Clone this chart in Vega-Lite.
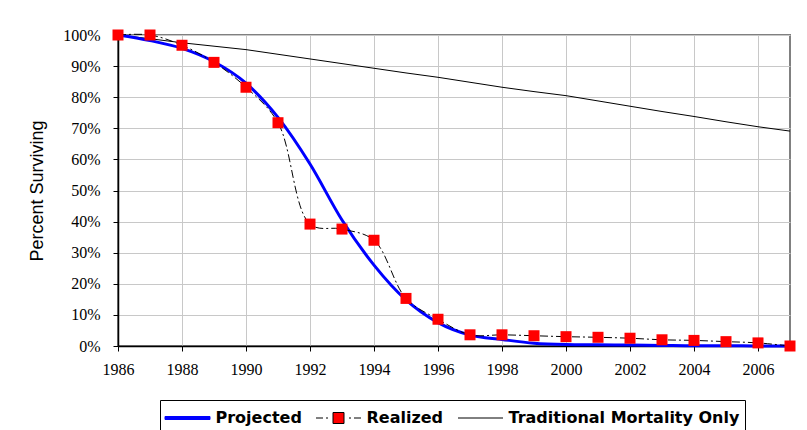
{
  "$schema": "https://vega.github.io/schema/vega-lite/v6.json",
  "width": 672,
  "height": 311,
  "autosize": {"type": "none"},
  "padding": {"left": 118, "top": 35, "right": 17, "bottom": 84},
  "background": "white",
  "config": {
    "view": {"stroke": "#808080", "strokeWidth": 2},
    "axis": {
      "labelFont": "Liberation Serif",
      "labelFontSize": 16,
      "labelColor": "black",
      "labelFlush": false,
      "labelOverlap": false,
      "tickColor": "black",
      "tickSize": 5,
      "tickWidth": 1,
      "domainColor": "black",
      "domainWidth": 1.5,
      "gridColor": "#c8c8c8",
      "gridWidth": 1
    }
  },
  "data": {
    "values": [
      {"year": 1986, "series": "Projected", "value": 1.0},
      {"year": 1987, "series": "Projected", "value": 0.982},
      {"year": 1988, "series": "Projected", "value": 0.957},
      {"year": 1989, "series": "Projected", "value": 0.914},
      {"year": 1990, "series": "Projected", "value": 0.845},
      {"year": 1991, "series": "Projected", "value": 0.735},
      {"year": 1992, "series": "Projected", "value": 0.585},
      {"year": 1993, "series": "Projected", "value": 0.405},
      {"year": 1994, "series": "Projected", "value": 0.26},
      {"year": 1995, "series": "Projected", "value": 0.148},
      {"year": 1996, "series": "Projected", "value": 0.075},
      {"year": 1997, "series": "Projected", "value": 0.035},
      {"year": 1998, "series": "Projected", "value": 0.021},
      {"year": 1999, "series": "Projected", "value": 0.009},
      {"year": 2000, "series": "Projected", "value": 0.005},
      {"year": 2001, "series": "Projected", "value": 0.004},
      {"year": 2002, "series": "Projected", "value": 0.003},
      {"year": 2003, "series": "Projected", "value": 0.002},
      {"year": 2004, "series": "Projected", "value": 0.001},
      {"year": 2005, "series": "Projected", "value": 0.001},
      {"year": 2006, "series": "Projected", "value": 0.0},
      {"year": 2007, "series": "Projected", "value": 0.0},
      {"year": 1986, "series": "Realized", "value": 1.0},
      {"year": 1987, "series": "Realized", "value": 1.0},
      {"year": 1988, "series": "Realized", "value": 0.967},
      {"year": 1989, "series": "Realized", "value": 0.912},
      {"year": 1990, "series": "Realized", "value": 0.832},
      {"year": 1991, "series": "Realized", "value": 0.718},
      {"year": 1992, "series": "Realized", "value": 0.392},
      {"year": 1993, "series": "Realized", "value": 0.376},
      {"year": 1994, "series": "Realized", "value": 0.34},
      {"year": 1995, "series": "Realized", "value": 0.153},
      {"year": 1996, "series": "Realized", "value": 0.086},
      {"year": 1997, "series": "Realized", "value": 0.036},
      {"year": 1998, "series": "Realized", "value": 0.036},
      {"year": 1999, "series": "Realized", "value": 0.033},
      {"year": 2000, "series": "Realized", "value": 0.03},
      {"year": 2001, "series": "Realized", "value": 0.028},
      {"year": 2002, "series": "Realized", "value": 0.025},
      {"year": 2003, "series": "Realized", "value": 0.02},
      {"year": 2004, "series": "Realized", "value": 0.018},
      {"year": 2005, "series": "Realized", "value": 0.014},
      {"year": 2006, "series": "Realized", "value": 0.01},
      {"year": 2007, "series": "Realized", "value": 0.0},
      {"year": 1986, "series": "Traditional Mortality Only", "value": 1.0},
      {"year": 1987, "series": "Traditional Mortality Only", "value": 0.988},
      {"year": 1988, "series": "Traditional Mortality Only", "value": 0.975},
      {"year": 1989, "series": "Traditional Mortality Only", "value": 0.964},
      {"year": 1990, "series": "Traditional Mortality Only", "value": 0.953},
      {"year": 1991, "series": "Traditional Mortality Only", "value": 0.938},
      {"year": 1992, "series": "Traditional Mortality Only", "value": 0.923},
      {"year": 1993, "series": "Traditional Mortality Only", "value": 0.908},
      {"year": 1994, "series": "Traditional Mortality Only", "value": 0.893},
      {"year": 1995, "series": "Traditional Mortality Only", "value": 0.878},
      {"year": 1996, "series": "Traditional Mortality Only", "value": 0.864},
      {"year": 1997, "series": "Traditional Mortality Only", "value": 0.848},
      {"year": 1998, "series": "Traditional Mortality Only", "value": 0.832},
      {"year": 1999, "series": "Traditional Mortality Only", "value": 0.818},
      {"year": 2000, "series": "Traditional Mortality Only", "value": 0.805},
      {"year": 2001, "series": "Traditional Mortality Only", "value": 0.788},
      {"year": 2002, "series": "Traditional Mortality Only", "value": 0.771},
      {"year": 2003, "series": "Traditional Mortality Only", "value": 0.754},
      {"year": 2004, "series": "Traditional Mortality Only", "value": 0.738},
      {"year": 2005, "series": "Traditional Mortality Only", "value": 0.721},
      {"year": 2006, "series": "Traditional Mortality Only", "value": 0.705},
      {"year": 2007, "series": "Traditional Mortality Only", "value": 0.691}
    ]
  },
  "encoding": {
    "x": {
      "field": "year",
      "type": "quantitative",
      "scale": {"domain": [1986, 2007], "nice": false, "zero": false},
      "axis": {
        "values": [1986, 1988, 1990, 1992, 1994, 1996, 1998, 2000, 2002, 2004, 2006],
        "format": "d",
        "title": null,
        "labelPadding": 10
      }
    },
    "y": {
      "field": "value",
      "type": "quantitative",
      "scale": {"domain": [0, 1], "nice": false},
      "axis": {
        "values": [0, 0.1, 0.2, 0.3, 0.4, 0.5, 0.6, 0.7, 0.8, 0.9, 1],
        "format": ".0%",
        "title": "Percent Surviving",
        "titleFont": "Liberation Sans",
        "titleFontSize": 18,
        "titleFontWeight": "normal",
        "titleColor": "black",
        "titlePadding": 16,
        "labelPadding": 13
      }
    }
  },
  "layer": [
    {
      "transform": [{"filter": "datum.series === 'Traditional Mortality Only'"}],
      "mark": {"type": "line", "color": "black", "strokeWidth": 1}
    },
    {
      "transform": [{"filter": "datum.series === 'Projected'"}],
      "mark": {"type": "line", "color": "#0000ff", "strokeWidth": 3, "interpolate": "monotone"}
    },
    {
      "transform": [{"filter": "datum.series === 'Realized'"}],
      "mark": {"type": "line", "color": "black", "strokeWidth": 1, "strokeDash": [8, 3, 2, 3], "interpolate": "catmull-rom"}
    },
    {
      "transform": [{"filter": "datum.series === 'Realized'"}],
      "mark": {"type": "point", "shape": "square", "filled": true, "color": "#ff0000", "size": 121, "opacity": 1, "strokeWidth": 0}
    },
    {
      "transform": [{"filter": "datum.series === 'none'"}],
      "mark": {"type": "point", "opacity": 1, "strokeWidth": 1},
      "encoding": {
        "shape": {
          "field": "series",
          "type": "nominal",
          "scale": {
            "domain": ["Projected", "Realized", "Traditional Mortality Only"],
            "range": [
              "M-1.04,-0.12H2.56V0.12H-1.04Z",
              "M-1.04,0H-0.48M-0.24,0H-0.08M0.32,-0.44H1.2V0.44H0.32ZM1.6,0H1.76M2.0,0H2.56",
              "M-1.04,0H2.56"
            ]
          },
          "legend": {
            "title": null,
            "orient": "none",
            "legendX": 42,
            "legendY": 365,
            "direction": "horizontal",
            "symbolSize": 625,
            "symbolStrokeWidth": 1,
            "symbolOffset": 0,
            "labelOffset": 24.5,
            "labelFont": "DejaVu Sans",
            "labelFontSize": 16,
            "labelFontWeight": "bold",
            "labelColor": "black",
            "labelLimit": 400,
            "columnPadding": 12,
            "padding": 5,
            "strokeColor": "black"
          }
        },
        "fill": {
          "field": "series",
          "type": "nominal",
          "scale": {
            "domain": ["Projected", "Realized", "Traditional Mortality Only"],
            "range": ["#0000ff", "#ff0000", "#000000"]
          }
        },
        "stroke": {
          "field": "series",
          "type": "nominal",
          "scale": {
            "domain": ["Projected", "Realized", "Traditional Mortality Only"],
            "range": ["#0000ff", "#000000", "#000000"]
          }
        }
      }
    }
  ]
}
